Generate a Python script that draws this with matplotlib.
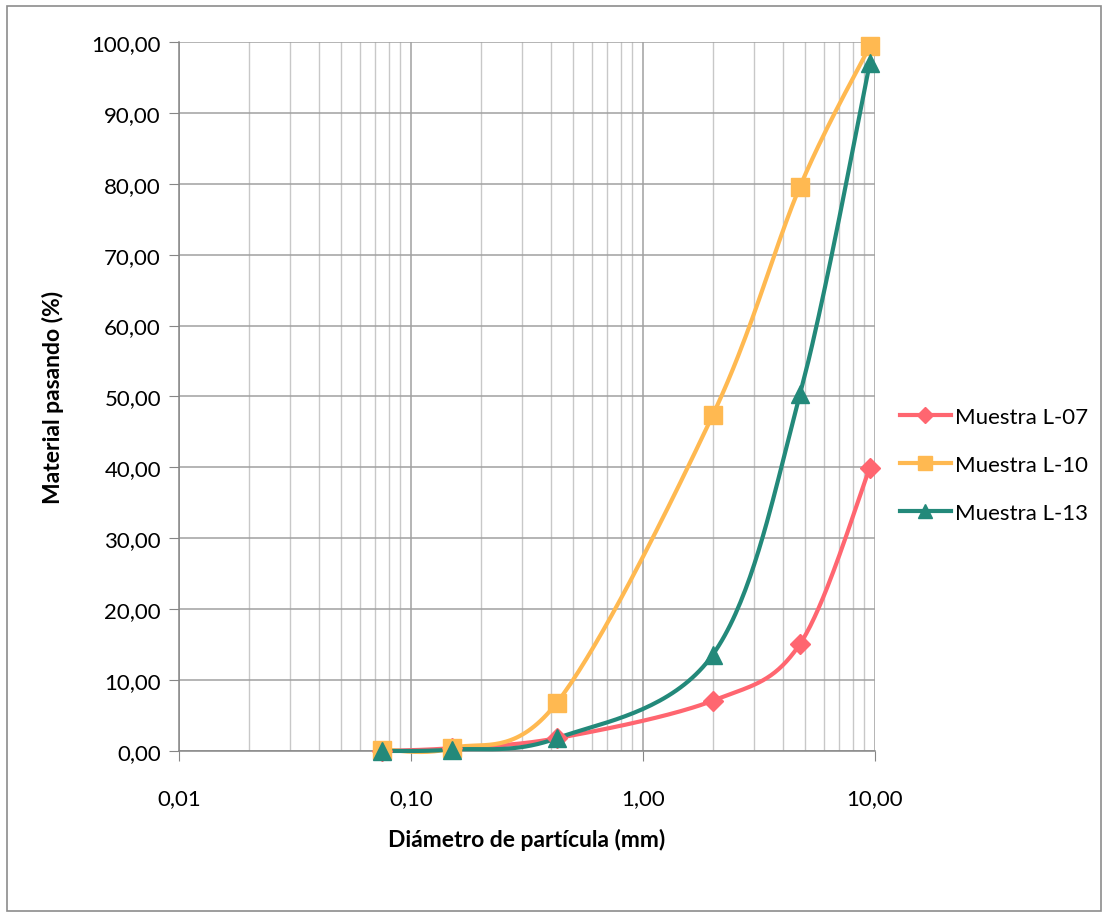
import numpy as np
import matplotlib
matplotlib.use("Agg")
import matplotlib.pyplot as plt
from matplotlib.ticker import FixedLocator, LogLocator, NullFormatter
from matplotlib.patches import Rectangle

plt.rcParams['font.family'] = ['Lato', 'DejaVu Sans']

# tamices (mm)
diametro = [0.075, 0.15, 0.425, 2.0, 4.75, 9.5]
l07 = [0.0, 0.4, 1.8, 7.1, 15.1, 39.9]
l10 = [0.2, 0.4, 6.8, 47.4, 79.6, 99.4]
l13 = [0.0, 0.2, 1.8, 13.6, 50.3, 97.0]

series = [
    ("Muestra L-07", l07, "#FF6670", "D", 10),
    ("Muestra L-10", l10, "#FFB951", "s", 13),
    ("Muestra L-13", l13, "#23897A", "^", 13),
]


def suavizar(x, y, n=40):
    # curva tipo Excel (bezier cubica) en espacio log-x
    lx = np.log10(x)
    y = np.asarray(y, dtype=float)
    px, py = [], []
    for i in range(len(lx) - 1):
        x0, y0 = lx[i], y[i]
        x3, y3 = lx[i + 1], y[i + 1]
        xm = lx[i - 1] if i > 0 else x0
        ym = y[i - 1] if i > 0 else y0
        xp = lx[i + 2] if i + 2 < len(lx) else x3
        yp = y[i + 2] if i + 2 < len(lx) else y3
        x1, y1 = x0 + (x3 - xm) / 6, y0 + (y3 - ym) / 6
        x2, y2 = x3 - (xp - x0) / 6, y3 - (yp - y0) / 6
        t = np.linspace(0, 1, n)
        bx = (1-t)**3*x0 + 3*(1-t)**2*t*x1 + 3*(1-t)*t**2*x2 + t**3*x3
        by = (1-t)**3*y0 + 3*(1-t)**2*t*y1 + 3*(1-t)*t**2*y2 + t**3*y3
        px.append(bx)
        py.append(by)
    return 10 ** np.concatenate(px), np.concatenate(py)


fig = plt.figure(figsize=(11.08, 9.2), dpi=100)
fig.patches.append(Rectangle((0.006, 0.009), 0.988, 0.983, transform=fig.transFigure,
                             fill=False, edgecolor="#8C8C8C", linewidth=1.2))
ax = fig.add_axes([0.1616, 0.1826, 0.6281, 0.7707])

for nombre, vals, color, mk, ms in series:
    sx, sy = suavizar(diametro, vals)
    ax.plot(sx, sy, color=color, linewidth=3.0, zorder=3, clip_on=False)
    ax.plot(diametro, vals, linestyle="none", marker=mk, markersize=ms, color=color,
            zorder=4, clip_on=False)
    ax.plot([], [], color=color, linewidth=3.0, marker=mk, markersize=ms * 0.8, label=nombre)

ax.set_xscale("log")
ax.set_xlim(0.01, 10)
ax.set_ylim(0, 100)
ax.set_yticks(np.arange(0, 101, 10))
ax.set_yticklabels([f"{v:.2f}".replace(".", ",") for v in np.arange(0, 101, 10)])
ax.xaxis.set_major_locator(FixedLocator([0.01, 0.1, 1, 10]))
ax.set_xticklabels(["0,01", "0,10", "1,00", "10,00"])
ax.xaxis.set_minor_locator(LogLocator(base=10, subs=np.arange(2, 10)))
ax.xaxis.set_minor_formatter(NullFormatter())

ax.grid(True, which="major", color="#A0A0A0", linewidth=1.1)
ax.grid(True, which="minor", axis="x", color="#C8C8C8", linewidth=1.0)
ax.tick_params(axis="x", which="minor", length=0)
ax.tick_params(axis="both", which="major", length=7, color="#868686", labelsize=16,
               labelcolor="#000000", pad=6)
ax.tick_params(axis="x", which="major", pad=20)
for s in ["top", "right"]:
    ax.spines[s].set_visible(False)
for s in ["left", "bottom"]:
    ax.spines[s].set_color("#868686")
    ax.spines[s].set_linewidth(1.1)
ax.set_axisbelow(True)

ax.set_xlabel("Diámetro de partícula (mm)", fontsize=16.5, fontweight="bold", labelpad=14)
ax.set_ylabel("Material pasando (%)", fontsize=16.5, fontweight="bold", labelpad=20)

fig.legend(loc="center left", bbox_to_anchor=(0.794, 0.4935), frameon=False, fontsize=16,
           handlelength=2.3, labelspacing=1.25, handletextpad=0.2)

fig.savefig("out.png", dpi=100)
